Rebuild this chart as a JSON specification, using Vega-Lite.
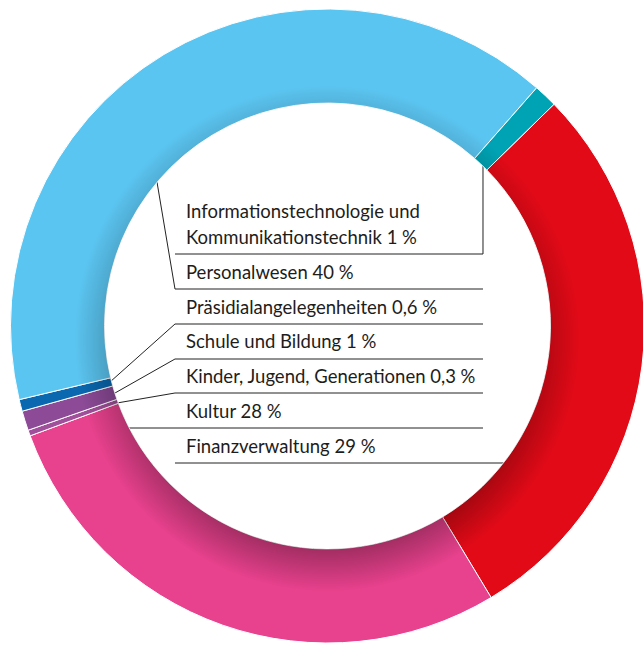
{
  "$schema": "https://vega.github.io/schema/vega-lite/v6.json",
  "width": 631,
  "height": 634,
  "autosize": "none",
  "padding": {"left": 12, "top": 9, "right": 0, "bottom": 0},
  "background": "white",
  "config": {"view": {"stroke": null}},
  "datasets": {
    "segments": [
      {"name": "Finanzverwaltung", "value": 28.7, "order": 1},
      {"name": "Kultur", "value": 28.0, "order": 2},
      {"name": "Kinder, Jugend, Generationen", "value": 0.3, "order": 3},
      {"name": "Schule und Bildung", "value": 1.0, "order": 4},
      {"name": "Präsidialangelegenheiten", "value": 0.6, "order": 5},
      {"name": "Personalwesen", "value": 40.2, "order": 6},
      {"name": "Informationstechnologie und Kommunikationstechnik", "value": 1.2, "order": 7}
    ],
    "leaders": [
      {"seg": "IT", "i": 0, "x": 49.05, "y": 50.79},
      {"seg": "IT", "i": 1, "x": 49.05, "y": 22.71},
      {"seg": "IT", "i": 2, "x": -48.11, "y": 22.71},
      {"seg": "Personal", "i": 0, "x": -53.79, "y": 45.43},
      {"seg": "Personal", "i": 1, "x": -48.11, "y": 11.67},
      {"seg": "Personal", "i": 2, "x": 49.05, "y": 11.67},
      {"seg": "Praesidial", "i": 0, "x": -68.61, "y": -17.67},
      {"seg": "Praesidial", "i": 1, "x": -48.11, "y": 0.63},
      {"seg": "Praesidial", "i": 2, "x": 49.05, "y": 0.63},
      {"seg": "Schule", "i": 0, "x": -67.03, "y": -21.14},
      {"seg": "Schule", "i": 1, "x": -48.11, "y": -10.41},
      {"seg": "Schule", "i": 2, "x": 49.05, "y": -10.41},
      {"seg": "Kinder", "i": 0, "x": -66.4, "y": -24.29},
      {"seg": "Kinder", "i": 1, "x": -48.11, "y": -21.14},
      {"seg": "Kinder", "i": 2, "x": 49.05, "y": -21.14},
      {"seg": "Kultur", "i": 0, "x": -62.93, "y": -32.18},
      {"seg": "Kultur", "i": 1, "x": 49.05, "y": -32.18},
      {"seg": "Finanz", "i": 0, "x": -48.11, "y": -43.22},
      {"seg": "Finanz", "i": 1, "x": 58.2, "y": -43.22}
    ],
    "labels": [
      {"label": "Informationstechnologie und\nKommunikationstechnik 1 %", "x": -44.64, "y": 33.97},
      {"label": "Personalwesen 40 %", "x": -44.64, "y": 14.83},
      {"label": "Präsidialangelegenheiten 0,6 %", "x": -44.64, "y": 3.79},
      {"label": "Schule und Bildung 1 %", "x": -44.64, "y": -7.03},
      {"label": "Kinder, Jugend, Generationen 0,3 %", "x": -44.64, "y": -18.08},
      {"label": "Kultur 28 %", "x": -44.64, "y": -29.12},
      {"label": "Finanzverwaltung 29 %", "x": -44.64, "y": -39.97}
    ]
  },
  "layer": [
    {
      "data": {"name": "leaders"},
      "mark": {"type": "line", "stroke": "#222222", "strokeWidth": 1},
      "encoding": {
        "x": {"field": "x", "type": "quantitative", "scale": {"domain": [-99.527, 99.527], "nice": false, "zero": false}, "axis": null},
        "y": {"field": "y", "type": "quantitative", "scale": {"domain": [-100, 100], "nice": false, "zero": false}, "axis": null},
        "detail": {"field": "seg"},
        "order": {"field": "i"}
      }
    },
    {
      "data": {"name": "segments"},
      "mark": {"type": "arc", "innerRadius": 223, "outerRadius": 317, "stroke": "white", "strokeWidth": 1},
      "encoding": {
        "theta": {"field": "value", "type": "quantitative", "stack": true, "scale": {"range": [0.796, 7.0792]}},
        "order": {"field": "order"},
        "color": {
          "field": "name", "type": "nominal", "legend": null,
          "scale": {
            "domain": ["Finanzverwaltung", "Kultur", "Kinder, Jugend, Generationen", "Schule und Bildung", "Präsidialangelegenheiten", "Personalwesen", "Informationstechnologie und Kommunikationstechnik"],
            "range": ["#E30A17", "#E8418D", "#A04F9A", "#8C4A97", "#0A68B0", "#5BC5F1", "#00A3B4"]
          }
        }
      }
    },
    {
      "data": {"values": [{"ring": "shade"}]},
      "mark": {
        "type": "arc", "innerRadius": 223, "outerRadius": 317, "theta": 0, "theta2": 6.2832,
        "fill": {
          "gradient": "radial", "x1": 0.5, "y1": 0.535, "r1": 0.3167, "x2": 0.5, "y2": 0.5, "r2": 0.5,
          "stops": [
            {"offset": 0, "color": "rgba(0,0,0,0.3)"},
            {"offset": 0.45, "color": "rgba(0,0,0,0)"},
            {"offset": 1, "color": "rgba(0,0,0,0)"}
          ]
        }
      },
      "encoding": {}
    },
    {
      "data": {"name": "labels"},
      "mark": {"type": "text", "align": "left", "baseline": "alphabetic", "font": "Lato", "fontSize": 18.5, "fill": "#1d1d1b", "lineBreak": "\n", "lineHeight": 26},
      "encoding": {
        "x": {"field": "x", "type": "quantitative"},
        "y": {"field": "y", "type": "quantitative"},
        "text": {"field": "label"}
      }
    }
  ]
}
